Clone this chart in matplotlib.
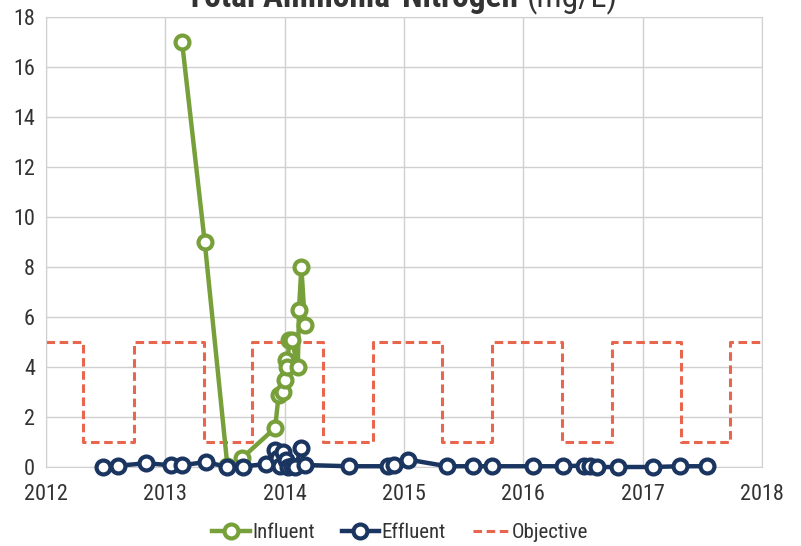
import matplotlib.pyplot as plt

# total ammonia-nitrogen, influent vs effluent vs seasonal objective
plt.rcParams['font.family'] = ['Roboto Condensed', 'DejaVu Sans']

influent_x = [2013.14, 2013.33, 2013.52, 2013.64, 2013.92, 2013.95, 2013.99, 2014.00,
              2014.01, 2014.02, 2014.04, 2014.06, 2014.11, 2014.12, 2014.14, 2014.17]
influent_y = [17.0, 9.0, 0.05, 0.35, 1.56, 2.9, 3.0, 3.5,
              4.3, 4.0, 5.1, 5.1, 4.0, 6.3, 8.0, 5.7]

effluent_x = [2012.48, 2012.60, 2012.84, 2013.05, 2013.14, 2013.34, 2013.52, 2013.65,
              2013.84, 2013.92, 2013.94, 2013.96, 2013.99, 2014.01, 2014.03, 2014.06,
              2014.09, 2014.14, 2014.17, 2014.54, 2014.87, 2014.92, 2015.03, 2015.36,
              2015.58, 2015.74, 2016.08, 2016.33, 2016.51, 2016.56, 2016.62, 2016.79,
              2017.09, 2017.31, 2017.54]
effluent_y = [0.0, 0.05, 0.15, 0.07, 0.07, 0.2, 0.0, 0.02,
              0.12, 0.68, 0.35, 0.05, 0.6, 0.3, 0.02, 0.05,
              0.02, 0.75, 0.08, 0.03, 0.03, 0.08, 0.3, 0.03,
              0.03, 0.03, 0.03, 0.03, 0.06, 0.06, 0.0, 0.0,
              0.0, 0.03, 0.03]

objective_x = [2012, 2012.31, 2012.74, 2013.32, 2013.73, 2014.32, 2014.74, 2015.32,
               2015.74, 2016.32, 2016.74, 2017.32, 2017.73, 2018]
objective_y = [5, 1, 5, 1, 5, 1, 5, 1, 5, 1, 5, 1, 5, 5]

years = [2012, 2013, 2014, 2015, 2016, 2017, 2018]
yticks = [0, 2, 4, 6, 8, 10, 12, 14, 16, 18]

green = '#77A03B'
navy = '#1B3561'
red = '#E8654E'

fig = plt.figure(figsize=(8.01, 5.46), dpi=100)
ax = fig.add_axes([46/801, 79/546, 716/801, 450/546])

ax.plot(objective_x, objective_y, drawstyle='steps-post', color=red, lw=2.2,
        dashes=(2.8, 1.5), label='Objective', zorder=2)
ax.plot(influent_x, influent_y, color=green, lw=3.2, marker='o', ms=10,
        mfc='white', mec=green, mew=3, label='Influent', zorder=3, clip_on=False)
ax.plot(effluent_x, effluent_y, color=navy, lw=3.2, marker='o', ms=10,
        mfc='white', mec=navy, mew=3, label='Effluent', zorder=4, clip_on=False)

ax.set_xlim(2012, 2018)
ax.set_ylim(0, 18)
ax.set_xticks(years)
ax.set_yticks(yticks)
ax.grid(True, color='#D0D0D0', lw=1)
ax.set_axisbelow(True)
for s in ax.spines.values():
    s.set_color('#D0D0D0')
ax.tick_params(length=0, labelsize=16, labelcolor='#333333')
ax.tick_params(axis='x', pad=12)
ax.tick_params(axis='y', pad=8)

h, l = ax.get_legend_handles_labels()
order = [1, 2, 0]
fig.legend([h[i] for i in order], [l[i] for i in order], loc='center',
           bbox_to_anchor=(0.5, 13/546), ncol=3, frameon=False, fontsize=15,
           handlelength=1.8, handletextpad=0.1, columnspacing=1.3,
           labelcolor='#333333')

fig.text(518/801, 1 - 7/546, 'Total Ammonia-Nitrogen', ha='right', va='baseline',
         fontsize=24, fontweight='bold', color='#333333')
fig.text(527/801, 1 - 7/546, '(mg/L)', ha='left', va='baseline',
         fontsize=24, color='#333333')

fig.savefig('out.png', dpi=100)
